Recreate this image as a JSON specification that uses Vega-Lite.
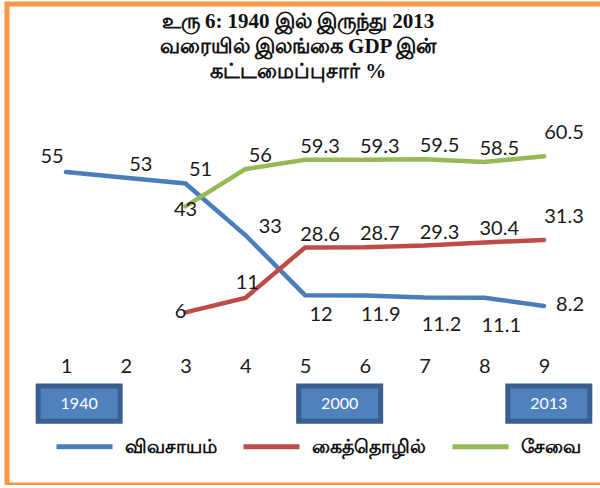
{
  "$schema": "https://vega.github.io/schema/vega-lite/v6.json",
  "autosize": {"type": "none"},
  "padding": {"left": 7, "top": 4, "right": 0, "bottom": 0},
  "width": 600,
  "height": 481,
  "background": "white",
  "config": {
    "view": {"stroke": "#F79646", "strokeWidth": 5},
    "text": {"font": "Lato", "fontSize": 20, "color": "#1a1a1a"}
  },
  "title": {
    "text": ["உரு 6: 1940 இல் இருந்து 2013", "வரையில் இலங்கை GDP இன்", "கட்டமைப்புசார் %"],
    "anchor": "middle",
    "offset": -78,
    "dx": -9,
    "font": "Liberation Serif",
    "fontSize": 21,
    "fontWeight": "bold",
    "lineHeight": 25,
    "color": "#111111"
  },
  "layer": [
    {
      "data": {"values": [
        {"s": "விவசாயம்", "x": 1, "v": 55},
        {"s": "விவசாயம்", "x": 2, "v": 53},
        {"s": "விவசாயம்", "x": 3, "v": 51},
        {"s": "விவசாயம்", "x": 4, "v": 33},
        {"s": "விவசாயம்", "x": 5, "v": 12},
        {"s": "விவசாயம்", "x": 6, "v": 11.9},
        {"s": "விவசாயம்", "x": 7, "v": 11.2},
        {"s": "விவசாயம்", "x": 8, "v": 11.1},
        {"s": "விவசாயம்", "x": 9, "v": 8.2},
        {"s": "கைத்தொழில்", "x": 3, "v": 6},
        {"s": "கைத்தொழில்", "x": 4, "v": 11},
        {"s": "கைத்தொழில்", "x": 5, "v": 28.6},
        {"s": "கைத்தொழில்", "x": 6, "v": 28.7},
        {"s": "கைத்தொழில்", "x": 7, "v": 29.3},
        {"s": "கைத்தொழில்", "x": 8, "v": 30.4},
        {"s": "கைத்தொழில்", "x": 9, "v": 31.3},
        {"s": "சேவை", "x": 3, "v": 43},
        {"s": "சேவை", "x": 4, "v": 56},
        {"s": "சேவை", "x": 5, "v": 59.3},
        {"s": "சேவை", "x": 6, "v": 59.3},
        {"s": "சேவை", "x": 7, "v": 59.5},
        {"s": "சேவை", "x": 8, "v": 58.5},
        {"s": "சேவை", "x": 9, "v": 60.5}
      ]},
      "encoding": {
        "x": {
          "field": "x",
          "type": "quantitative",
          "scale": {"domain": [0.0126, 10.054], "nice": false, "zero": false},
          "axis": {
            "values": [1, 2, 3, 4, 5, 6, 7, 8, 9],
            "format": "d",
            "domain": false,
            "ticks": false,
            "tickSize": 0,
            "grid": false,
            "title": null,
            "offset": -119,
            "labelPadding": 0,
            "labelFont": "Lato",
            "labelFontSize": 20,
            "labelColor": "#1a1a1a",
            "labelBaseline": "middle"
          }
        },
        "y": {
          "field": "v",
          "type": "quantitative",
          "scale": {"domain": [-54.31, 113.69], "nice": false, "zero": false},
          "axis": null
        }
      },
      "layer": [
        {
          "mark": {"type": "line", "strokeWidth": 4.5, "strokeCap": "round", "strokeJoin": "miter"},
          "encoding": {
            "color": {
              "field": "s",
              "type": "nominal",
              "sort": ["விவசாயம்", "கைத்தொழில்", "சேவை"],
              "scale": {"domain": ["விவசாயம்", "கைத்தொழில்", "சேவை"], "range": ["#4A7EBB", "#BE4B48", "#98B954"]},
              "legend": {
                "orient": "none",
                "legendX": 47,
                "legendY": 412,
                "direction": "horizontal",
                "title": null,
                "padding": 0,
                "symbolType": "stroke",
                "symbolSize": 3136,
                "symbolStrokeWidth": 5,
                "labelOffset": 10,
                "columnPadding": 16,
                "labelFontSize": 19,
                "labelFont": "Liberation Serif",
                "labelFontWeight": "bold",
                "labelColor": "#111111"
              }
            },
            "order": {"field": "x", "type": "quantitative"}
          }
        },
        {
          "transform": [{"filter": "(datum.s=='விவசாயம்' && (datum.x==2 || datum.x==3)) || (datum.s=='சேவை' && datum.x>=4 && datum.x<=8) || (datum.s=='கைத்தொழில்' && datum.x>=5 && datum.x<=8)"}],
          "mark": {"type": "text", "dx": 15, "dy": -13, "baseline": "middle"},
          "encoding": {"text": {"field": "v"}}
        },
        {
          "transform": [{"filter": "datum.s!='விவசாயம்' && datum.x==9"}],
          "mark": {"type": "text", "dx": 20, "dy": -23, "baseline": "middle"},
          "encoding": {"text": {"field": "v"}}
        },
        {
          "transform": [{"filter": "datum.s=='விவசாயம்' && datum.x==1"}],
          "mark": {"type": "text", "dx": -14, "dy": -15, "baseline": "middle"},
          "encoding": {"text": {"field": "v"}}
        },
        {
          "transform": [{"filter": "datum.s=='விவசாயம்' && datum.x==4"}],
          "mark": {"type": "text", "dx": 25, "dy": -8, "baseline": "middle"},
          "encoding": {"text": {"field": "v"}}
        },
        {
          "transform": [{"filter": "datum.s=='விவசாயம்' && (datum.x==5 || datum.x==6)"}],
          "mark": {"type": "text", "dx": 16, "dy": 20, "baseline": "middle"},
          "encoding": {"text": {"field": "v"}}
        },
        {
          "transform": [{"filter": "datum.s=='விவசாயம்' && (datum.x==7 || datum.x==8)"}],
          "mark": {"type": "text", "dx": 17, "dy": 28, "baseline": "middle"},
          "encoding": {"text": {"field": "v"}}
        },
        {
          "transform": [{"filter": "datum.s=='விவசாயம்' && datum.x==9"}],
          "mark": {"type": "text", "dx": 26, "dy": -1, "baseline": "middle"},
          "encoding": {"text": {"field": "v"}}
        },
        {
          "transform": [{"filter": "datum.s=='சேவை' && datum.x==3"}],
          "mark": {"type": "text", "dx": 0, "dy": 4, "baseline": "middle"},
          "encoding": {"text": {"field": "v"}}
        },
        {
          "transform": [{"filter": "datum.s=='கைத்தொழில்' && datum.x==3"}],
          "mark": {"type": "text", "dx": -5, "dy": 0, "baseline": "middle"},
          "encoding": {"text": {"field": "v"}}
        },
        {
          "transform": [{"filter": "datum.s=='கைத்தொழில்' && datum.x==4"}],
          "mark": {"type": "text", "dx": 2, "dy": -15, "baseline": "middle"},
          "encoding": {"text": {"field": "v"}}
        }
      ]
    },
    {
      "data": {"values": [
        {"year": "1940", "at": 1.22},
        {"year": "2000", "at": 5.58},
        {"year": "2013", "at": 9.08}
      ]},
      "encoding": {
        "x": {"field": "at", "type": "quantitative"},
        "y": {"datum": -25.85, "type": "quantitative"}
      },
      "layer": [
        {
          "mark": {"type": "point", "shape": "M-1,-0.43H1V0.43H-1Z", "size": 6724, "filled": true, "fill": "#4F81BD", "stroke": "#3A5F8E", "strokeWidth": 5, "opacity": 1}
        },
        {
          "mark": {"type": "text", "color": "white", "fontSize": 16, "font": "Lato", "baseline": "middle"},
          "encoding": {"text": {"field": "year"}}
        }
      ]
    }
  ]
}
